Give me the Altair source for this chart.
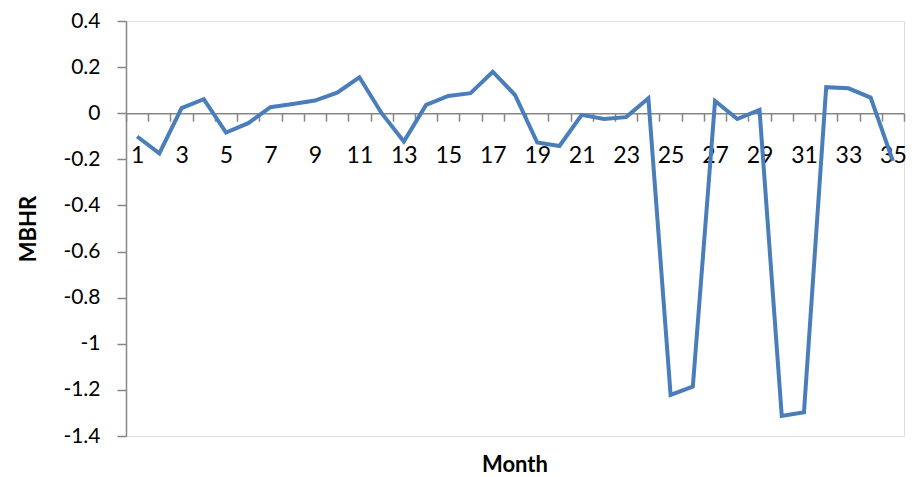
import altair as alt
import pandas as pd

months = list(range(1, 36))
mbhr = [-0.101, -0.174, 0.022, 0.061, -0.084, -0.043, 0.026, 0.040, 0.055, 0.089,
        0.156, 0.000, -0.123, 0.036, 0.075, 0.087, 0.180, 0.079, -0.127, -0.142,
        -0.007, -0.025, -0.017, 0.065, -1.222, -1.186, 0.053, -0.025, 0.014, -1.313,
        -1.297, 0.113, 0.108, 0.068, -0.207]
y_ticks = [-1.4, -1.2, -1.0, -0.8, -0.6, -0.4, -0.2, 0.0, 0.2, 0.4]

df = pd.DataFrame({"Month": months, "MBHR": mbhr})

W, H = 778, 415
bin_w = W / len(months)
x_bounds = [m - 0.5 for m in months] + [months[-1] + 0.5]
zero_from_bottom = H * (0 - y_ticks[0]) / (y_ticks[-1] - y_ticks[0])

FONT = "Lato"
AXIS_COLOR = "#868686"

chart = alt.Chart(df).mark_line(color="#4A7EBB", strokeWidth=4).encode(
    x=alt.X(
        "Month:Q",
        scale=alt.Scale(domain=[x_bounds[0], x_bounds[-1]], nice=False, zero=False),
        axis=alt.Axis(
            title=None,
            values=x_bounds,
            labelExpr="((datum.value + 0.5) % 2 == 1 && datum.value < 35) ? format(datum.value + 0.5, 'd') : ''",
            labelOffset=bin_w / 2,
            labelFlush=False,
            labelOverlap=False,
            labelBound=False,
            offset=-zero_from_bottom,
            domainColor=AXIS_COLOR,
            domainWidth=1.5,
            tickColor=AXIS_COLOR,
            tickWidth=1.5,
            tickSize=8,
            labelPadding=23,
            labelFont=FONT,
            labelFontSize=23,
            labelColor="#000000",
            grid=False,
        ),
    ),
    y=alt.Y(
        "MBHR:Q",
        scale=alt.Scale(domain=[y_ticks[0], y_ticks[-1]], nice=False, zero=False),
        axis=alt.Axis(
            title="MBHR",
            values=y_ticks,
            labelExpr="replace(format(datum.value, '.1~f'), '\u2212', '-')",
            domainColor=AXIS_COLOR,
            domainWidth=1.5,
            tickColor=AXIS_COLOR,
            tickWidth=1.5,
            tickSize=9,
            labelPadding=17,
            labelFont=FONT,
            labelFontSize=21,
            labelColor="#000000",
            labelFlush=False,
            labelOverlap=False,
            titleFont=FONT,
            titleFontSize=22,
            titleFontWeight="bold",
            titleColor="#000000",
            titlePadding=22,
            grid=False,
        ),
    ),
).properties(
    width=W,
    height=H,
    title=alt.TitleParams(
        "Month",
        orient="bottom",
        anchor="middle",
        frame="group",
        baseline="top",
        offset=9,
        font=FONT,
        fontSize=22,
        fontWeight="bold",
        color="#000000",
    ),
    autosize=alt.AutoSizeParams(type="none"),
    padding={"left": 126, "top": 21, "right": 12, "bottom": 41},
).configure_view(
    fill="#F4F3EF",
    stroke=None,
).configure(background="#FFFFFF")

chart.save("out.html", embed_options={"renderer": "svg", "actions": False})
